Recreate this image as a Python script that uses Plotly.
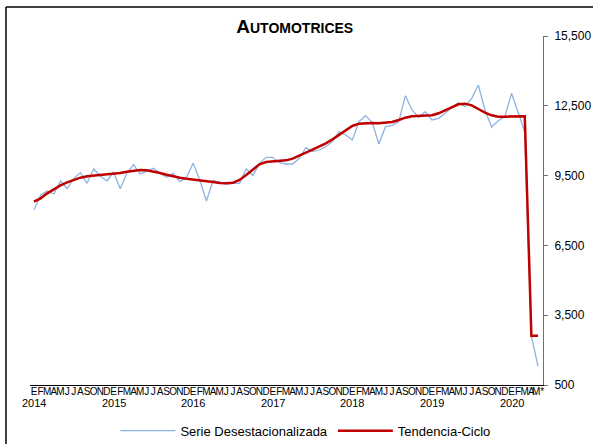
import plotly.graph_objects as go

MONTH_LETTERS = ["E", "F", "M", "A", "M", "J", "J", "A", "S", "O", "N", "D"]
YEARS = [2014, 2015, 2016, 2017, 2018, 2019, 2020]
LAST_MONTH_LABEL = "M*"

serie_desest = [
    8022, 8667, 8838, 8710, 9268, 8939, 9383, 9626, 9168, 9784, 9483, 9268,
    9655, 8939, 9598, 9970, 9569, 9684, 9813, 9598, 9426, 9598, 9240, 9426,
    10027, 9311, 8408, 9283, 9225, 9139, 9168, 9168, 9784, 9497, 10027, 10285,
    10285, 10056, 9999, 9999, 10242, 10701, 10529, 10600, 10744, 10959, 11389, 11245,
    11030, 11818, 12076, 11775, 10859, 11603, 11661, 11818, 12936, 12320, 12005, 12248,
    11890, 11962, 12177, 12434, 12635, 12463, 12821, 13394, 12320, 11589, 11861, 12033,
    13036, 12177, 11389, 2600, 1300,
]

tendencia_ciclo = [
    8380, 8523, 8738, 8910, 9082, 9211, 9326, 9411, 9469, 9497, 9512, 9526,
    9569, 9612, 9669, 9712, 9741, 9727, 9684, 9612, 9540, 9469, 9411, 9369,
    9340, 9311, 9268, 9225, 9182, 9168, 9197, 9311, 9526, 9770, 9985, 10085,
    10113, 10128, 10156, 10228, 10342, 10486, 10615, 10744, 10887, 11059, 11260, 11461,
    11632, 11733, 11761, 11761, 11747, 11761, 11804, 11890, 11990, 12048, 12062, 12062,
    12091, 12177, 12306, 12449, 12563, 12592, 12520, 12363, 12205, 12091, 12033, 12033,
    12033, 12048, 12048, 2620, 2620,
]

Y_TICKS = [500, 3500, 6500, 9500, 12500, 15500]

n = len(serie_desest)
x = list(range(n))
tick_text = [MONTH_LETTERS[i % 12] for i in range(n)]
tick_text[-1] = LAST_MONTH_LABEL

fig = go.Figure()
fig.add_trace(go.Scatter(
    x=x, y=serie_desest, mode="lines", name="Serie Desestacionalizada",
    line=dict(color="#8DB3E2", width=1.3),
))
fig.add_trace(go.Scatter(
    x=x, y=tendencia_ciclo, mode="lines", name="Tendencia-Ciclo",
    line=dict(color="#C00000", width=2.5),
))

for k, yr in enumerate(YEARS):
    fig.add_annotation(
        x=k * 12, y=-0.03, xref="x", yref="paper", text=str(yr),
        showarrow=False, yanchor="top", xanchor="center",
        font=dict(family="Liberation Sans, Arial", size=11, color="#000000"),
    )

# outer frame (left and top edges visible in the reference)
fig.add_shape(type="line", xref="paper", yref="paper",
              x0=-0.0468, x1=-0.0468, y0=-0.6, y1=1.083,
              line=dict(color="#000000", width=1.5), layer="below")
fig.add_shape(type="line", xref="paper", yref="paper",
              x0=-0.0468, x1=1.3, y0=1.083, y1=1.083,
              line=dict(color="#000000", width=1.5), layer="below")

fig.update_layout(
    width=593, height=444,
    margin=dict(l=30, r=50, t=36, b=59, autoexpand=False),
    paper_bgcolor="white", plot_bgcolor="white",
    title=dict(
        text="<b>A<span style='font-size:14px'>UTOMOTRICES</span></b>",
        x=0.497, xref="container", xanchor="center",
        y=0.94, yref="container", yanchor="middle",
        font=dict(family="Liberation Sans, Arial", size=19, color="#000000"),
    ),
    showlegend=True,
    legend=dict(
        orientation="h", x=0.515, xref="container", xanchor="center",
        y=0.03, yref="container", yanchor="middle",
        font=dict(family="Liberation Sans, Arial", size=13, color="#000000"),
        itemwidth=55,
    ),
    xaxis=dict(
        range=[-0.6, n - 1 + 0.75], automargin=False,
        tickmode="array", tickvals=x, ticktext=tick_text, tickangle=0,
        tickfont=dict(family="Liberation Sans Narrow, Arial Narrow, Liberation Sans", size=10, color="#000000"),
        showline=True, linecolor="#000000", linewidth=1,
        showgrid=False, zeroline=False, ticks="", ticklen=0,
        ticklabelstandoff=-3,
    ),
    yaxis=dict(
        range=[500, 15500], side="right", automargin=False,
        tickmode="array", tickvals=Y_TICKS, tickformat=",d",
        tickfont=dict(family="Liberation Sans, Arial", size=12, color="#000000"),
        showline=True, linecolor="#707070", linewidth=1,
        ticks="outside", ticklen=4, tickcolor="#707070",
        ticklabelstandoff=4,
        showgrid=False, zeroline=False,
    ),
)

fig.write_html(
    "out.html",
    config={"displayModeBar": False},
    post_script="document.body.style.margin='0';document.body.style.overflow='hidden';",
)
